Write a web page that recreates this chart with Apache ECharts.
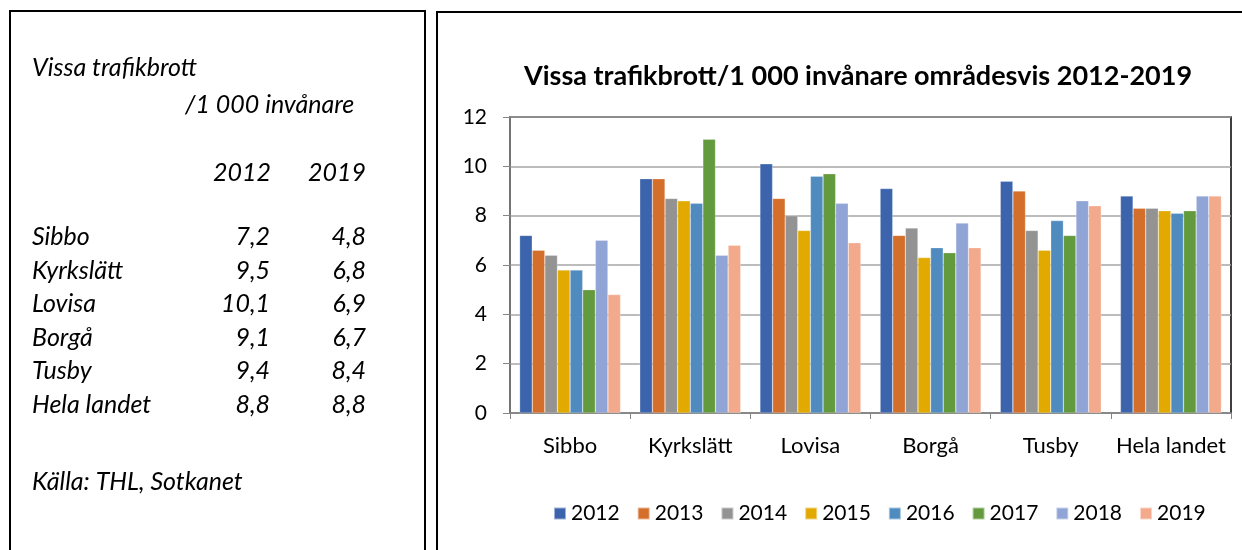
<!DOCTYPE html>
<html>
<head>
<meta charset="utf-8">
<script src="https://cdn.jsdelivr.net/npm/echarts@6/dist/echarts.min.js"></script>
<style>
  html, body { margin: 0; padding: 0; background: #fff; }
  #chart { width: 1242px; height: 550px; }
</style>
</head>
<body>
<div id="chart"></div>
<script>
const areas = ['Sibbo', 'Kyrkslätt', 'Lovisa', 'Borgå', 'Tusby', 'Hela landet']
const years = ['2012', '2013', '2014', '2015', '2016', '2017', '2018', '2019']

// one array per year, in the order of areas
const v2012 = [7.2, 9.5, 10.1, 9.1, 9.4, 8.8]
const v2013 = [6.6, 9.5, 8.7, 7.2, 9.0, 8.3]
const v2014 = [6.4, 8.7, 8.0, 7.5, 7.4, 8.3]
const v2015 = [5.8, 8.6, 7.4, 6.3, 6.6, 8.2]
const v2016 = [5.8, 8.5, 9.6, 6.7, 7.8, 8.1]
const v2017 = [5.0, 11.1, 9.7, 6.5, 7.2, 8.2]
const v2018 = [7.0, 6.4, 8.5, 7.7, 8.6, 8.8]
const v2019 = [4.8, 6.8, 6.9, 6.7, 8.4, 8.8]

const yearValues = [v2012, v2013, v2014, v2015, v2016, v2017, v2018, v2019]
const colors = ['#3c64ac', '#d46f2b', '#939393', '#e2aa00', '#4f8bbf', '#629a3d', '#91a4d6', '#f2a98c']

const font = 'Lato, "Liberation Sans", sans-serif'
const fmt = v => v.toFixed(1).replace('.', ',')

const chart = echarts.init(document.getElementById('chart'))

// left text box: small table with 2012 and 2019
const tableText = []
const textStyle = { font: 'italic 25px ' + font, fill: '#000', verticalAlign: 'middle' }
tableText.push({ type: 'text', x: 32, y: 68, style: { ...textStyle, text: 'Vissa trafikbrott' } })
tableText.push({ type: 'text', x: 185, y: 105, style: { ...textStyle, text: '/1 000 invånare' } })
tableText.push({ type: 'text', x: 271, y: 173, style: { ...textStyle, text: '2012', align: 'right' } })
tableText.push({ type: 'text', x: 366, y: 173, style: { ...textStyle, text: '2019', align: 'right' } })
areas.forEach((name, i) => {
  const y = 237 + i * 33.6
  tableText.push({ type: 'text', x: 32, y: y, style: { ...textStyle, text: name } })
  tableText.push({ type: 'text', x: 270, y: y, style: { ...textStyle, text: fmt(v2012[i]), align: 'right' } })
  tableText.push({ type: 'text', x: 366, y: y, style: { ...textStyle, text: fmt(v2019[i]), align: 'right' } })
})
tableText.push({ type: 'text', x: 32, y: 482, style: { ...textStyle, text: 'Källa: THL, Sotkanet' } })

chart.setOption({
  animation: false,
  color: colors,
  title: {
    text: 'Vissa trafikbrott/1 000 invånare områdesvis 2012-2019',
    left: 853,
    textAlign: 'center',
    top: 58,
    textStyle: { fontFamily: font, fontWeight: 'bold', fontSize: 27, color: '#000' }
  },
  legend: {
    data: years,
    left: 548,
    top: 498,
    itemWidth: 12,
    itemHeight: 12,
    itemGap: 17,
    icon: 'rect',
    textStyle: { fontFamily: font, fontSize: 21, color: '#000' }
  },
  grid: {
    left: 510,
    top: 117,
    right: 11,
    bottom: 137,
    show: true,
    borderColor: '#000',
    borderWidth: 1.5
  },
  xAxis: {
    type: 'category',
    data: areas,
    axisLine: { lineStyle: { color: '#868686', width: 1.5 } },
    axisTick: { show: true, length: 6, lineStyle: { color: '#868686' } },
    axisLabel: { interval: 0, fontFamily: font, fontSize: 22, color: '#000', margin: 22 }
  },
  yAxis: {
    type: 'value',
    min: 0,
    max: 12,
    interval: 2,
    axisLine: { show: true, lineStyle: { color: '#868686', width: 1.5 } },
    axisTick: { show: true, inside: false, length: 7, lineStyle: { color: '#868686' } },
    axisLabel: { fontFamily: font, fontSize: 21, color: '#000', margin: 23 },
    splitLine: { lineStyle: { color: '#a6a6a6', width: 1.5 } }
  },
  series: years.map((y, i) => ({
    name: y,
    type: 'bar',
    data: yearValues[i],
    barGap: '0%',
    barCategoryGap: '16%',
    itemStyle: { borderColor: 'rgba(255,255,255,0.5)', borderWidth: 0.5 }
  })),
  graphic: [
    { type: 'rect', shape: { x: 10, y: 11, width: 415, height: 600 }, style: { fill: 'none', stroke: '#000', lineWidth: 2 } },
    { type: 'rect', shape: { x: 437, y: 12, width: 900, height: 600 }, style: { fill: 'none', stroke: '#000', lineWidth: 2 } },
    ...tableText
  ]
})
</script>
</body>
</html>
